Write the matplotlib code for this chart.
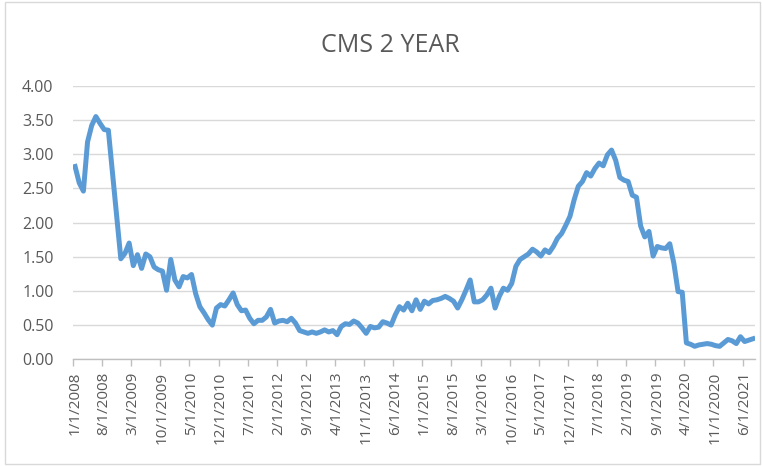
import numpy as np
import matplotlib
matplotlib.use("Agg")
import matplotlib.pyplot as plt
from matplotlib.patches import Rectangle

# monthly CMS 2 year values, 1/2008 .. 8/2021
cms_2y = [
    2.82, 2.58, 2.46, 3.18, 3.42, 3.55, 3.45, 3.36, 3.35, 2.72, 2.10, 1.47,  # 2008
    1.55, 1.70, 1.37, 1.53, 1.33, 1.54, 1.50, 1.35, 1.31, 1.29, 1.01, 1.46,  # 2009
    1.16, 1.06, 1.21, 1.19, 1.24, 0.96, 0.77, 0.68, 0.58, 0.50, 0.75, 0.80,  # 2010
    0.78, 0.87, 0.97, 0.80, 0.71, 0.72, 0.60, 0.52, 0.57, 0.57, 0.62, 0.73,  # 2011
    0.53, 0.56, 0.57, 0.55, 0.60, 0.53, 0.42, 0.40, 0.38, 0.40, 0.38, 0.40,  # 2012
    0.43, 0.40, 0.42, 0.36, 0.48, 0.52, 0.51, 0.56, 0.53, 0.46, 0.38, 0.48,  # 2013
    0.46, 0.47, 0.55, 0.53, 0.50, 0.65, 0.77, 0.72, 0.82, 0.71, 0.87, 0.73,  # 2014
    0.85, 0.81, 0.86, 0.87, 0.89, 0.92, 0.89, 0.85, 0.75, 0.87, 1.01, 1.16,  # 2015
    0.84, 0.84, 0.87, 0.94, 1.04, 0.75, 0.92, 1.04, 1.01, 1.11, 1.36, 1.46,  # 2016
    1.50, 1.54, 1.61, 1.57, 1.51, 1.60, 1.56, 1.65, 1.77, 1.84, 1.96, 2.09,  # 2017
    2.33, 2.53, 2.60, 2.73, 2.68, 2.79, 2.87, 2.83, 2.99, 3.06, 2.91, 2.66,  # 2018
    2.62, 2.60, 2.40, 2.37, 1.95, 1.79, 1.87, 1.51, 1.65, 1.63, 1.62, 1.69,  # 2019
    1.40, 0.99, 0.98, 0.24, 0.22, 0.19, 0.21, 0.22, 0.23, 0.22, 0.20, 0.19,  # 2020
    0.24, 0.29, 0.27, 0.23, 0.33, 0.26, 0.28, 0.30,                          # 2021
]

dates = [f"{(i % 12) + 1}/1/{2008 + i // 12}" for i in range(len(cms_2y))]
label_step = 7
y_ticks = [0, 0.5, 1, 1.5, 2, 2.5, 3, 3.5, 4]

grey_txt = "#595959"
line_col = "#5B9BD5"

plt.rcParams["font.family"] = ["Open Sans", "DejaVu Sans"]

fig = plt.figure(figsize=(7.62, 4.66), dpi=100)
ax = fig.add_axes([73 / 762, 1 - 359.3 / 466, (755 - 73) / 762, (359.3 - 85.8) / 466])

x = np.arange(len(cms_2y))
ax.plot(x, cms_2y, color=line_col, linewidth=3.6, solid_joinstyle="round", zorder=3)

ax.set_xlim(-0.5, len(cms_2y) - 0.5)
ax.set_ylim(0, 4)

ax.set_yticks(y_ticks)
ax.set_yticklabels([f"{v:.2f}" for v in y_ticks])
ax.yaxis.grid(True, color="#d9d9d9", linewidth=1)
ax.set_axisbelow(True)

# labels on the months, tick marks on the slot borders
lab_pos = x[::label_step]
ax.set_xticks(lab_pos)
ax.set_xticklabels([dates[i] for i in lab_pos], rotation=90)
ax.set_xticks(np.arange(-0.5, len(cms_2y), label_step), minor=True)
ax.tick_params(axis="x", which="major", length=0, pad=9, labelsize=11, colors=grey_txt)
ax.tick_params(axis="x", which="minor", length=5, width=1, color="#bfbfbf")
ax.tick_params(axis="y", length=0, pad=14, labelsize=11.5, colors=grey_txt)

for s in ["top", "right", "left"]:
    ax.spines[s].set_visible(False)
ax.spines["bottom"].set_color("#bfbfbf")
ax.spines["bottom"].set_linewidth(1)

fig.text(0.512, 1 - 45 / 466, "CMS 2 YEAR", ha="center", va="center",
         fontsize=18, color=grey_txt)

# chart area border
fig.patches.append(Rectangle((0.007, 0.005), 0.99, 0.99, transform=fig.transFigure,
                             fill=False, edgecolor="#d9d9d9", linewidth=1))

fig.savefig("out.png", dpi=100)
